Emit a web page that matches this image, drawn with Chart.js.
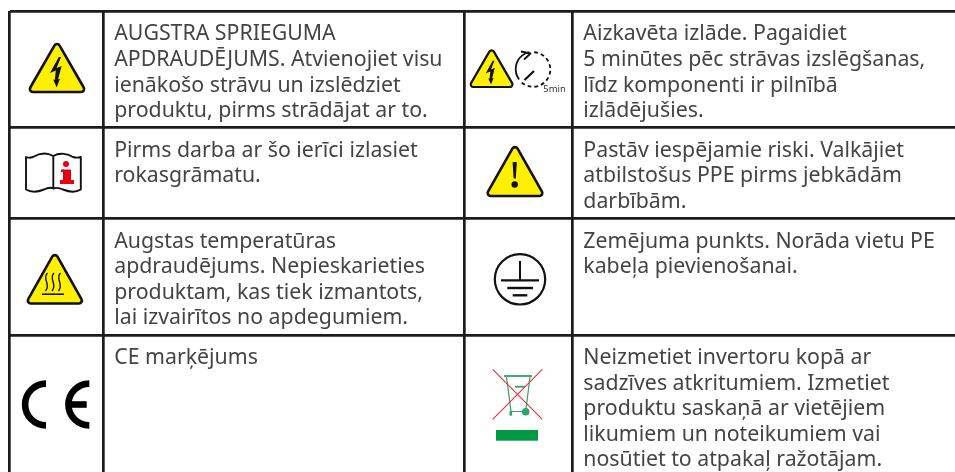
<!DOCTYPE html>
<html lang="lv"><head><meta charset="utf-8">
<style>html,body{margin:0;padding:0;background:#fff}#w{width:955px;height:472px;position:relative}canvas{display:block}</style>
<script src="https://cdn.jsdelivr.net/npm/chart.js@4"></script></head>
<body><div id="w"><canvas id="c" width="955" height="472"></canvas></div>
<script>
const columnEdges=[9.7,103.8,464.5,572.3];
const rowEdges=[11.3,127.3,218.7,335.2];
const textColumns=[114.2,583.3];
const textFont='21.3px "Noto Sans"';
const textColor='#444444';
const cellsLeft=[
 {baselines:[40,66,91.5,117],lines:["AUGSTRA SPRIEGUMA","APDRAUDĒJUMS. Atvienojiet visu","ienākošo strāvu un izslēdziet","produktu, pirms strādājat ar to."]},
 {baselines:[157,182],lines:["Pirms darba ar šo ierīci izlasiet","rokasgrāmatu."]},
 {baselines:[248,273,298.7,324],lines:["Augstas temperatūras","apdraudējums. Nepieskarieties","produktam, kas tiek izmantots,","lai izvairītos no apdegumiem."]},
 {baselines:[364],lines:["CE marķējums"]}
];
const cellsRight=[
 {baselines:[40,66,91.5,117],lines:["Aizkavēta izlāde. Pagaidiet","5 minūtes pēc strāvas izslēgšanas,","līdz komponenti ir pilnībā","izlādējušies."]},
 {baselines:[157,182,207.5],lines:["Pastāv iespējamie riski. Valkājiet","atbilstošus PPE pirms jebkādām","darbībām."]},
 {baselines:[248,273],lines:["Zemējuma punkts. Norāda vietu PE","kabeļa pievienošanai."]},
 {baselines:[364,390,414.7,440.7,466],lines:["Neizmetiet invertoru kopā ar","sadzīves atkritumiem. Izmetiet","produktu saskaņā ar vietējiem","likumiem un noteikumiem vai","nosūtiet to atpakaļ ražotājam."]}
];
const timerLabel="5min";

const YEL='#FFF000',BLK='#111';
function tri(g,l,r,t,b,lw,rad){
 const m=(l+r)/2;
 g.beginPath();g.moveTo(m,b);g.arcTo(l,b,m,t,rad);g.arcTo(m,t,r,b,rad);g.arcTo(r,b,l,b,rad);g.closePath();
 g.fillStyle=YEL;g.fill();g.strokeStyle=BLK;g.lineWidth=lw;g.lineJoin='round';g.stroke();
}
function poly(g,pts,fill){g.beginPath();pts.forEach((p,i)=>i?g.lineTo(p[0],p[1]):g.moveTo(p[0],p[1]));g.closePath();g.fillStyle=fill;g.fill();}
function bolt(g,ox,oy,s){
 poly(g,[[58.8,57],[50,73],[55.8,70.6],[54.8,80],[53.2,79.6],[56.7,87.5],[60,78.6],[58,79.6],[61.6,66],[56.6,68],[61,57]].map(p=>[ox+(p[0]-56)*s,oy+(p[1]-72)*s]),'#111');
}
function drawIcons(g){
 // high voltage
 tri(g,27.7,86.3,41,92,2.6,3);bolt(g,56,72,1);
 // delayed discharge
 tri(g,468.8,514.4,47.8,87,2.2,2.6);bolt(g,490.5,72.5,0.78);
 g.strokeStyle=BLK;g.lineWidth=1.8;g.setLineDash([3.8,3]);g.beginPath();g.arc(533,69.5,17.3,-1.5,2.4);g.stroke();g.setLineDash([]);
 g.lineWidth=1.8;g.beginPath();g.arc(533,69,17.3,2.5,4.5);g.stroke();
 g.beginPath();g.moveTo(521,51.5);g.lineTo(530.5,53.5);g.lineTo(524,59.5);g.stroke();
 g.lineWidth=2.2;g.beginPath();g.moveTo(524.5,80);g.lineTo(534,71);g.stroke();
 g.fillStyle='#333';g.font='9.5px "Noto Sans"';g.fillText(timerLabel,543.3,91.6);
 // manual
 g.strokeStyle=BLK;g.lineWidth=1.9;g.lineJoin='round';
 g.beginPath();g.moveTo(53.3,156);g.bezierCurveTo(46,152,38,154,33,157);g.bezierCurveTo(30,158,28,158,26,157);g.lineTo(26,189.5);
 g.bezierCurveTo(32,193,38,192,44,189.5);g.bezierCurveTo(47,188,50,187,53.3,188.5);g.bezierCurveTo(57,187,60,188,63,189.5);g.bezierCurveTo(69,192,75,193,80.8,189.5);
 g.lineTo(80.8,157);g.bezierCurveTo(78,158,76,158,73,157);g.bezierCurveTo(68,154,60,152,53.3,156);g.closePath();
 g.moveTo(53.3,156);g.lineTo(53.3,188.5);g.stroke();
 g.fillStyle='#E60012';g.beginPath();g.arc(66,164,3,0,7);g.fill();
 g.fillRect(63,169.5,8,10.5);g.fillRect(61,169.5,3,2.5);g.fillRect(60,180,14,4);
 // caution
 tri(g,485.5,544.5,144,196,2.6,3);
 poly(g,[[512.6,162],[516.8,162],[515.8,178.5],[513.6,178.5]],'#111');
 g.fillStyle='#111';g.beginPath();g.arc(514.7,184.5,3.2,0,7);g.fill();
 // hot surface
 tri(g,25.7,84,252,303.5,2.6,3);
 g.strokeStyle=BLK;g.lineWidth=1.4;
 [46.5,53,59.5].forEach(x=>{g.beginPath();g.moveTo(x+1,273);g.bezierCurveTo(x-5,279,x+5,284,x-1,291);g.stroke();});
 g.lineWidth=1.6;g.beginPath();g.moveTo(42,294.2);g.lineTo(64,294.2);g.stroke();
 // earth
 g.strokeStyle=BLK;g.lineWidth=2.2;g.beginPath();g.arc(520,279.3,25.2,0,7);g.stroke();
 g.lineWidth=2;g.beginPath();g.moveTo(520,261);g.lineTo(520,280);g.stroke();
 g.lineWidth=2.4;[[501,539,280.4],[507.3,533,288],[512.7,527.3,295.3]].forEach(a=>{g.beginPath();g.moveTo(a[0],a[2]);g.lineTo(a[1],a[2]);g.stroke();});
 // CE
 g.strokeStyle='#000';g.lineWidth=6.6;g.lineCap='butt';
 g.beginPath();g.arc(46,404.5,20.9,Math.PI/2,Math.PI*1.5);g.stroke();
 g.beginPath();g.arc(89.3,404.5,20.9,Math.PI/2,Math.PI*1.5);g.stroke();
 g.fillStyle='#000';g.fillRect(70,401.2,16.7,6.6);
 // bin
 const GR='#2AA565';
 g.strokeStyle=GR;g.lineWidth=1.2;
 g.beginPath();g.moveTo(506.5,377);g.lineTo(511,411.5);g.lineTo(525,411.5);g.moveTo(530,377);g.lineTo(526,409);g.stroke();
 g.lineWidth=1.8;g.beginPath();g.moveTo(504,376);g.lineTo(532,376);g.stroke();
 g.beginPath();g.moveTo(515,386.7);g.lineTo(525,386.7);g.stroke();
 g.fillStyle=GR;g.beginPath();g.arc(525.7,411.7,3.8,0,7);g.fill();g.fillRect(509.5,411,2.6,4.6);
 g.strokeStyle='#EA2E3E';g.lineWidth=1.1;g.beginPath();g.moveTo(492.7,369.3);g.lineTo(542.3,419.3);g.moveTo(542.3,369.3);g.lineTo(492.7,419.3);g.stroke();
 g.fillStyle='#009A44';g.fillRect(496,430,42,10.7);
}
const tablePlugin={id:'tablePlugin',afterDraw(chart){
 const g=chart.ctx,X=chart.scales.x,Y=chart.scales.y;
 g.save();
 drawIcons(g);
 g.font=textFont;g.fillStyle=textColor;g.textBaseline='alphabetic';g.textAlign='left';
 [cellsLeft,cellsRight].forEach((cells,i)=>cells.forEach(c=>c.lines.forEach((t,j)=>g.fillText(t,X.getPixelForValue(textColumns[i]),Y.getPixelForValue(c.baselines[j])))));
 g.restore();
}};
function gridAxis(edges,extra){return Object.assign({type:'linear',min:edges[0],border:{display:false},
 grid:{color:'#1c1c1c',lineWidth:2.7,drawTicks:false},ticks:{display:false},
 afterBuildTicks(s){s.ticks=edges.map(v=>({value:v}));}},extra);}
new Chart(document.getElementById('c'),{type:'scatter',plugins:[tablePlugin],
 data:{datasets:[{data:[]}]},
 options:{responsive:false,animation:false,events:[],
  layout:{padding:{left:columnEdges[0],top:rowEdges[0],right:0,bottom:0,autoPadding:false}},
  plugins:{legend:{display:false},tooltip:{enabled:false},title:{display:false}},
  scales:{x:gridAxis(columnEdges,{max:955,position:'top'}),y:gridAxis(rowEdges,{max:472,reverse:true})}}});
</script></body></html>
